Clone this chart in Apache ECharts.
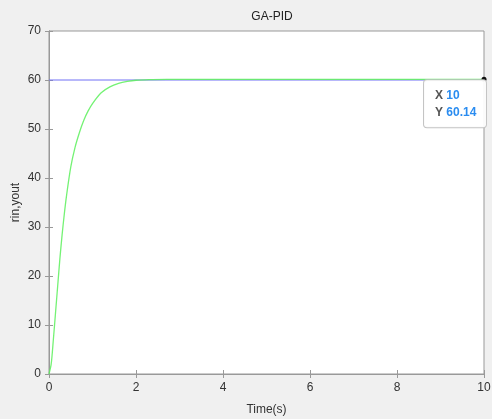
<!DOCTYPE html>
<html><head><meta charset="utf-8">
<script src="https://cdn.jsdelivr.net/npm/echarts@6/dist/echarts.min.js"></script>
<style>html,body{margin:0;padding:0;background:#f0f0f0}#c{width:492px;height:419px}</style>
</head><body><div id="c"></div>
<script>
var timeS = [0,0.05,0.1,0.15,0.2,0.25,0.3,0.35,0.4,0.5,0.6,0.7,0.8,0.9,1.0,1.2,1.4,1.6,1.8,2.0,2.3,2.7,3.5,10];
var yout  = [0,2,7,12.5,18,23.5,28.3,32.5,36.2,42.2,46.3,49.3,51.8,53.7,55.2,57.4,58.6,59.3,59.7,59.95,60.08,60.13,60.14,60.14];
var rinT = [0,10];
var rin = [60,60];
var xTicks = [0,2,4,6,8,10];
var yTicks = [0,10,20,30,40,50,60,70];
var tipX = 10, tipY = 60.14;

var font = 'Liberation Sans';
var axisCol = '#999';
var labCol = '#333';
function pairs(a,b){return a.map(function(v,i){return [v,b[i]];});}

var chart = echarts.init(document.getElementById('c'));
chart.setOption({
  backgroundColor:'#f0f0f0',
  animation:false,
  title:{text:'GA-PID',left:267,top:6,textAlign:'center',textStyle:{fontFamily:font,fontSize:12,fontWeight:'normal',color:'#222'}},
  grid:{left:49,top:31,right:8,bottom:45,show:true,backgroundColor:'#fff',borderColor:axisCol,borderWidth:1,outerBoundsMode:'none',containLabel:false},
  xAxis:[{type:'value',min:xTicks[0],max:xTicks[xTicks.length-1],interval:2,position:'bottom',
    name:'Time(s)',nameLocation:'middle',nameGap:30,nameMoveOverlap:false,nameTextStyle:{fontFamily:font,fontSize:12,color:labCol},
    axisLine:{lineStyle:{color:axisCol}},axisTick:{inside:true,length:4,lineStyle:{color:axisCol}},
    axisLabel:{fontFamily:font,fontSize:12,color:labCol,margin:8},splitLine:{show:false}},
   {type:'value',min:0,max:10,interval:2,position:'top',axisLine:{lineStyle:{color:axisCol}},axisTick:{inside:true,length:4,lineStyle:{color:axisCol}},axisLabel:{show:false},splitLine:{show:false}}],
  yAxis:[{type:'value',min:yTicks[0],max:yTicks[yTicks.length-1],interval:10,
    name:'rin,yout',nameLocation:'middle',nameGap:27,nameMoveOverlap:false,nameTextStyle:{fontFamily:font,fontSize:12,color:labCol},
    axisLine:{show:true,lineStyle:{color:axisCol}},axisTick:{show:true,inside:true,length:4,lineStyle:{color:axisCol}},
    axisLabel:{fontFamily:font,fontSize:12,color:labCol,margin:8},splitLine:{show:false}},
   {type:'value',min:0,max:70,interval:10,position:'right',axisLine:{show:true,lineStyle:{color:axisCol}},axisTick:{show:true,inside:true,length:4,lineStyle:{color:axisCol}},axisLabel:{show:false},splitLine:{show:false}}],
  series:[
    {type:'line',data:pairs(rinT,rin),showSymbol:false,lineStyle:{color:'#7070f5',width:1},z:2},
    {type:'line',data:pairs(timeS,yout),smooth:0.3,showSymbol:false,lineStyle:{color:'#5cf05c',width:1.3,opacity:0.85},z:3,
     markPoint:{symbol:'circle',symbolSize:5,itemStyle:{color:'#111'},
      data:[{coord:[tipX,tipY],
        label:{show:true,position:[-57.5,3.5],align:'left',verticalAlign:'top',
          formatter:'{k|X} {v|'+tipX+'}\n{k|Y} {v|'+tipY+'}',
          backgroundColor:'rgba(255,255,255,0.92)',borderColor:'#c4c4c4',borderWidth:1,borderRadius:3,
          padding:[7,10,6,11],width:41,lineHeight:17,
          rich:{k:{fontFamily:font,fontSize:12,fontWeight:'bold',color:'#555',lineHeight:17},v:{fontFamily:font,fontSize:12,fontWeight:'bold',color:'#2a8cf0',lineHeight:17}}}}]}}
  ]
});
</script></body></html>
